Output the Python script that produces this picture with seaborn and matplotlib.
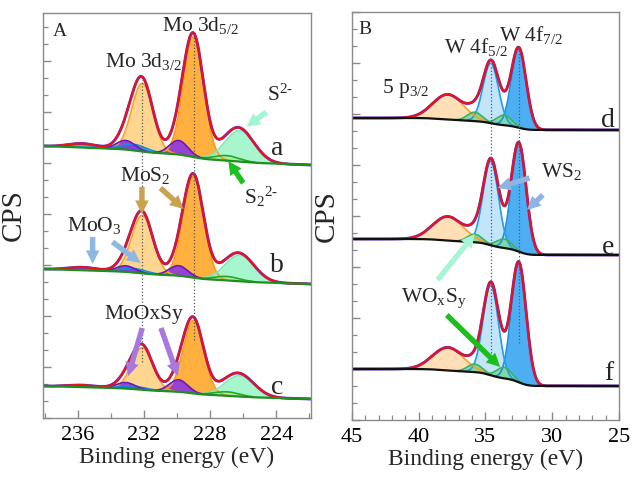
import numpy as np
import pandas as pd
import matplotlib
matplotlib.use("Agg")
import matplotlib.pyplot as plt
from matplotlib.ticker import MultipleLocator, NullFormatter
import seaborn as sns

sns.set_theme(style="ticks")
plt.rcParams["font.family"] = ["Liberation Serif", "DejaVu Serif"]
plt.rcParams["mathtext.fontset"] = "custom"
plt.rcParams["mathtext.rm"] = "Liberation Serif"
plt.rcParams["mathtext.it"] = "Liberation Serif:italic"

# ---------------- Panel A: Mo 3d / S 2s ----------------
mo_spectra = ["a", "b", "c"]
mo_bg_left = [272, 149, 32]      # background level at high binding energy
mo_bg_right = [253, 134, 19]     # background level at low binding energy
mo_bg_slope = [0.6, 0.5, 0.45]   # linear part of the background (CPS / eV)
mo_components = ["Mo3d5/2 MoS2", "Mo3d3/2 MoS2", "S2-", "S2 2-",
                 "MoO3 3d5/2", "MoO3 3d3/2", "MoOxSy 3d5/2", "MoOxSy 3d3/2"]
mo_centres = [229.0, 232.1, 226.2, 227.0, 232.6, 235.7, 229.9, 233.1]
mo_fwhm = [1.45, 1.5, 2.1, 1.8, 1.8, 2.0, 1.3, 1.3]
mo_heights_a = [120, 68, 31, 5, 6, 4, 14, 9]
mo_heights_b = [101, 58, 26, 4, 4, 3, 10, 6]
mo_heights_c = [73, 42, 21, 4, 3, 2, 12, 6]
mo_heights = [mo_heights_a, mo_heights_b, mo_heights_c]
mo_ticks = [236, 232, 228, 224]

# ---------------- Panel B: W 4f / W 5p ----------------
w_spectra = ["d", "e", "f"]
w_bg_left = [302, 181, 51]
w_bg_right = [290, 165, 34]
w_components = ["W4f7/2 WS2", "W4f5/2 WS2", "W5p3/2", "WOxSy 4f5/2", "WOxSy 4f7/2"]
w_centres = [32.5, 34.6, 37.8, 35.8, 33.6]
w_fwhm = [1.3, 1.35, 2.7, 1.3, 1.3]
w_heights_d = [79, 60, 25, 9, 10]
w_heights_e = [108, 84, 24, 8, 9]
w_heights_f = [119, 90, 23, 8, 11]
w_heights = [w_heights_d, w_heights_e, w_heights_f]
w_ticks = [45, 40, 35, 30, 25]

# fill colour, edge colour per component
mo_styles = [("#FFA82A", "#FF9A10"), ("#FFD284", "#FFA020"),
             ("#9EF5C8", "#86E6B8"), ("#A8EFA8", "#22AA22"),
             ("#25A8EE", "#1A8ADD"), ("#25A8EE", "#1A8ADD"),
             ("#8C36E4", "#6A18B8"), ("#8C36E4", "#6A18B8")]
w_styles = [("#3AA6F0", "#1A8FE0"), ("#BCE3FA", "#1E9DEB"),
            ("#FFDDAE", "#FFA01E"), ("#7DD89E", "#3CB060"), ("#7DD89E", "#3CB060")]


def gauss(E, c, h, w):
    return h * np.exp(-4 * np.log(2) * (E - c) ** 2 / w ** 2)


def shirley(E, total, left, right, slope):
    frac = np.cumsum(total)
    frac = frac / frac[-1]
    step = (left - right) - slope * (E[-1] - E[0])
    return right + slope * (E - E[0]) + step * frac


def draw_spectrum(ax, E, centres, fwhm, heights, styles, left, right, slope, bg_color):
    comps = [gauss(E, c, h, w) for c, h, w in zip(centres, heights, fwhm)]
    total = np.sum(comps, axis=0)
    bg = shirley(E, total, left, right, slope)
    for comp, (fc, ec) in zip(comps, styles):
        mask = comp > 0.4
        ax.fill_between(E, bg, bg + comp, where=mask, color=fc, alpha=0.9, lw=0)
        ax.plot(E, np.where(mask, bg + comp, np.nan), color=ec, lw=1.2)
    env = pd.DataFrame({"E": E, "cps": bg + total})
    sns.lineplot(data=env, x="E", y="cps", ax=ax, color="#4A3FE0", lw=2.1)
    sns.lineplot(data=env, x="E", y="cps", ax=ax, color="#EE1018", lw=1.6)
    sns.lineplot(x=E, y=bg, ax=ax, color=bg_color, lw=1.6)


def arrow(ax, tail, tip, color):
    ax.annotate("", xy=tip, xytext=tail,
                arrowprops=dict(arrowstyle="simple,head_length=0.75,head_width=0.75,tail_width=0.3",
                                color=color, lw=0, shrinkA=0, shrinkB=0, mutation_scale=13))


def style_axes(ax, major_x, minor_x):
    for s in ax.spines.values():
        s.set_color("#8A8A8A")
        s.set_linewidth(1.0)
    ax.xaxis.set_major_locator(major_x)
    ax.xaxis.set_minor_locator(minor_x)
    ax.yaxis.set_major_locator(MultipleLocator(51))
    ax.yaxis.set_minor_locator(MultipleLocator(17))
    ax.yaxis.set_major_formatter(NullFormatter())
    ax.tick_params(axis="both", which="both", direction="in", color="#8A8A8A",
                   top=False, right=False)
    ax.tick_params(axis="both", which="major", length=6, width=1)
    ax.tick_params(axis="both", which="minor", length=3.5, width=0.9)
    ax.tick_params(axis="x", labelsize=16, pad=6, labelcolor="black")
    ax.set_xlabel("Binding energy (eV)", fontsize=17, labelpad=1)
    ax.grid(False)


fig = plt.figure(figsize=(6.33, 4.78), dpi=100)
axA = fig.add_axes([43 / 633, 1 - 418 / 478, 268 / 633, 405 / 478])
axB = fig.add_axes([352 / 633, 1 - 420 / 478, 267 / 633, 408 / 478])

# ---- panel A ----
EA = np.linspace(221.9, 238.1, 1800)
for i in range(3):
    draw_spectrum(axA, EA, mo_centres, mo_fwhm, mo_heights[i], mo_styles,
                  mo_bg_left[i], mo_bg_right[i], mo_bg_slope[i], "#1E8E1E")
axA.plot([232.1, 232.1], [56, 338], ls=":", color="#555555", lw=0.9)
axA.plot([229.0, 229.0], [78, 383], ls=":", color="#555555", lw=0.9)
axA.set_xlim(238.1, 221.9)
axA.set_ylim(0, 405)
style_axes(axA, plt.FixedLocator(mo_ticks), MultipleLocator(2))
axA.set_ylabel("CPS", fontsize=21, labelpad=8)

label_fs = 15.5
axA.text(237.1, 387, "A", fontsize=14, ha="center", va="center")
axA.text(232.0, 356, r"Mo 3d$_{\mathrm{3/2}}$", fontsize=label_fs, ha="center", va="center")
axA.text(228.6, 392, r"Mo 3d$_{\mathrm{5/2}}$", fontsize=label_fs, ha="center", va="center")
axA.text(223.8, 323, r"S$^{\mathrm{2}\text{-}}$", fontsize=label_fs, ha="center", va="center")
arrow(axA, (224.6, 306), (225.8, 291), "#A2F5D2")
axA.text(224.9, 221, r"S$_{\mathrm{2}}{}^{\mathrm{2}\text{-}}$", fontsize=label_fs, ha="center", va="center")
arrow(axA, (226.0, 235), (226.9, 257), "#1DC01D")
axA.text(231.9, 243, r"MoS$_{\mathrm{2}}$", fontsize=label_fs, ha="center", va="center")
arrow(axA, (232.12, 231), (232.12, 204), "#C9A24D")
arrow(axA, (231.0, 230), (229.6, 209), "#C9A24D")
axA.text(235.0, 193, r"MoO$_{\mathrm{3}}$", fontsize=label_fs, ha="center", va="center")
arrow(axA, (235.1, 181), (235.1, 154), "#8DB8E2")
arrow(axA, (233.9, 176), (232.2, 155), "#8DB8E2")
axA.text(232.0, 103, "MoOxSy", fontsize=label_fs, ha="center", va="center")
arrow(axA, (232.1, 90), (232.95, 42), "#A878DC")
arrow(axA, (230.97, 90), (229.95, 42), "#A878DC")
for lab, yb in zip(mo_spectra, [263, 146, 24]):
    axA.text(223.95, yb, lab, fontsize=20, ha="center", va="baseline")

# ---- panel B ----
EB = np.linspace(25, 45, 1800)
for i in range(3):
    draw_spectrum(axB, EB, w_centres, w_fwhm, w_heights[i], w_styles,
                  w_bg_left[i], w_bg_right[i], 0.0, "#111111")
axB.plot([34.6, 34.6], [67, 355], ls=":", color="#3050E0", lw=0.9)
axB.plot([32.5, 32.5], [77, 370], ls=":", color="#3050E0", lw=0.9)
axB.set_xlim(45, 25)
axB.set_ylim(0, 408)
style_axes(axB, plt.FixedLocator(w_ticks), MultipleLocator(1))
axB.set_ylabel("CPS", fontsize=21, labelpad=5)

axB.text(44.0, 391, "B", fontsize=14, ha="center", va="center")
axB.text(41.0, 331, r"5 p$_{\mathrm{3/2}}$", fontsize=label_fs, ha="center", va="center")
axB.text(35.7, 373, r"W 4f$_{\mathrm{5/2}}$", fontsize=label_fs, ha="center", va="center")
axB.text(31.6, 385, r"W 4f$_{\mathrm{7/2}}$", fontsize=label_fs, ha="center", va="center")
axB.text(29.3, 248, r"WS$_{\mathrm{2}}$", fontsize=label_fs, ha="center", va="center")
arrow(axB, (31.7, 242), (34.1, 232), "#8DB4E2")
arrow(axB, (30.7, 225), (31.9, 210), "#8DB4E2")
axB.text(38.9, 122, r"WO$_{\mathrm{x}}$S$_{\mathrm{y}}$", fontsize=label_fs, ha="center", va="center")
arrow(axB, (37.9, 105), (33.9, 53), "#1BBF1B")
arrow(axB, (38.6, 140), (35.8, 186), "#A8F5D5")
for lab, yb in zip(w_spectra, [293, 166, 40]):
    axB.text(25.8, yb, lab, fontsize=20, ha="center", va="baseline")

fig.savefig("out.png", dpi=100)
